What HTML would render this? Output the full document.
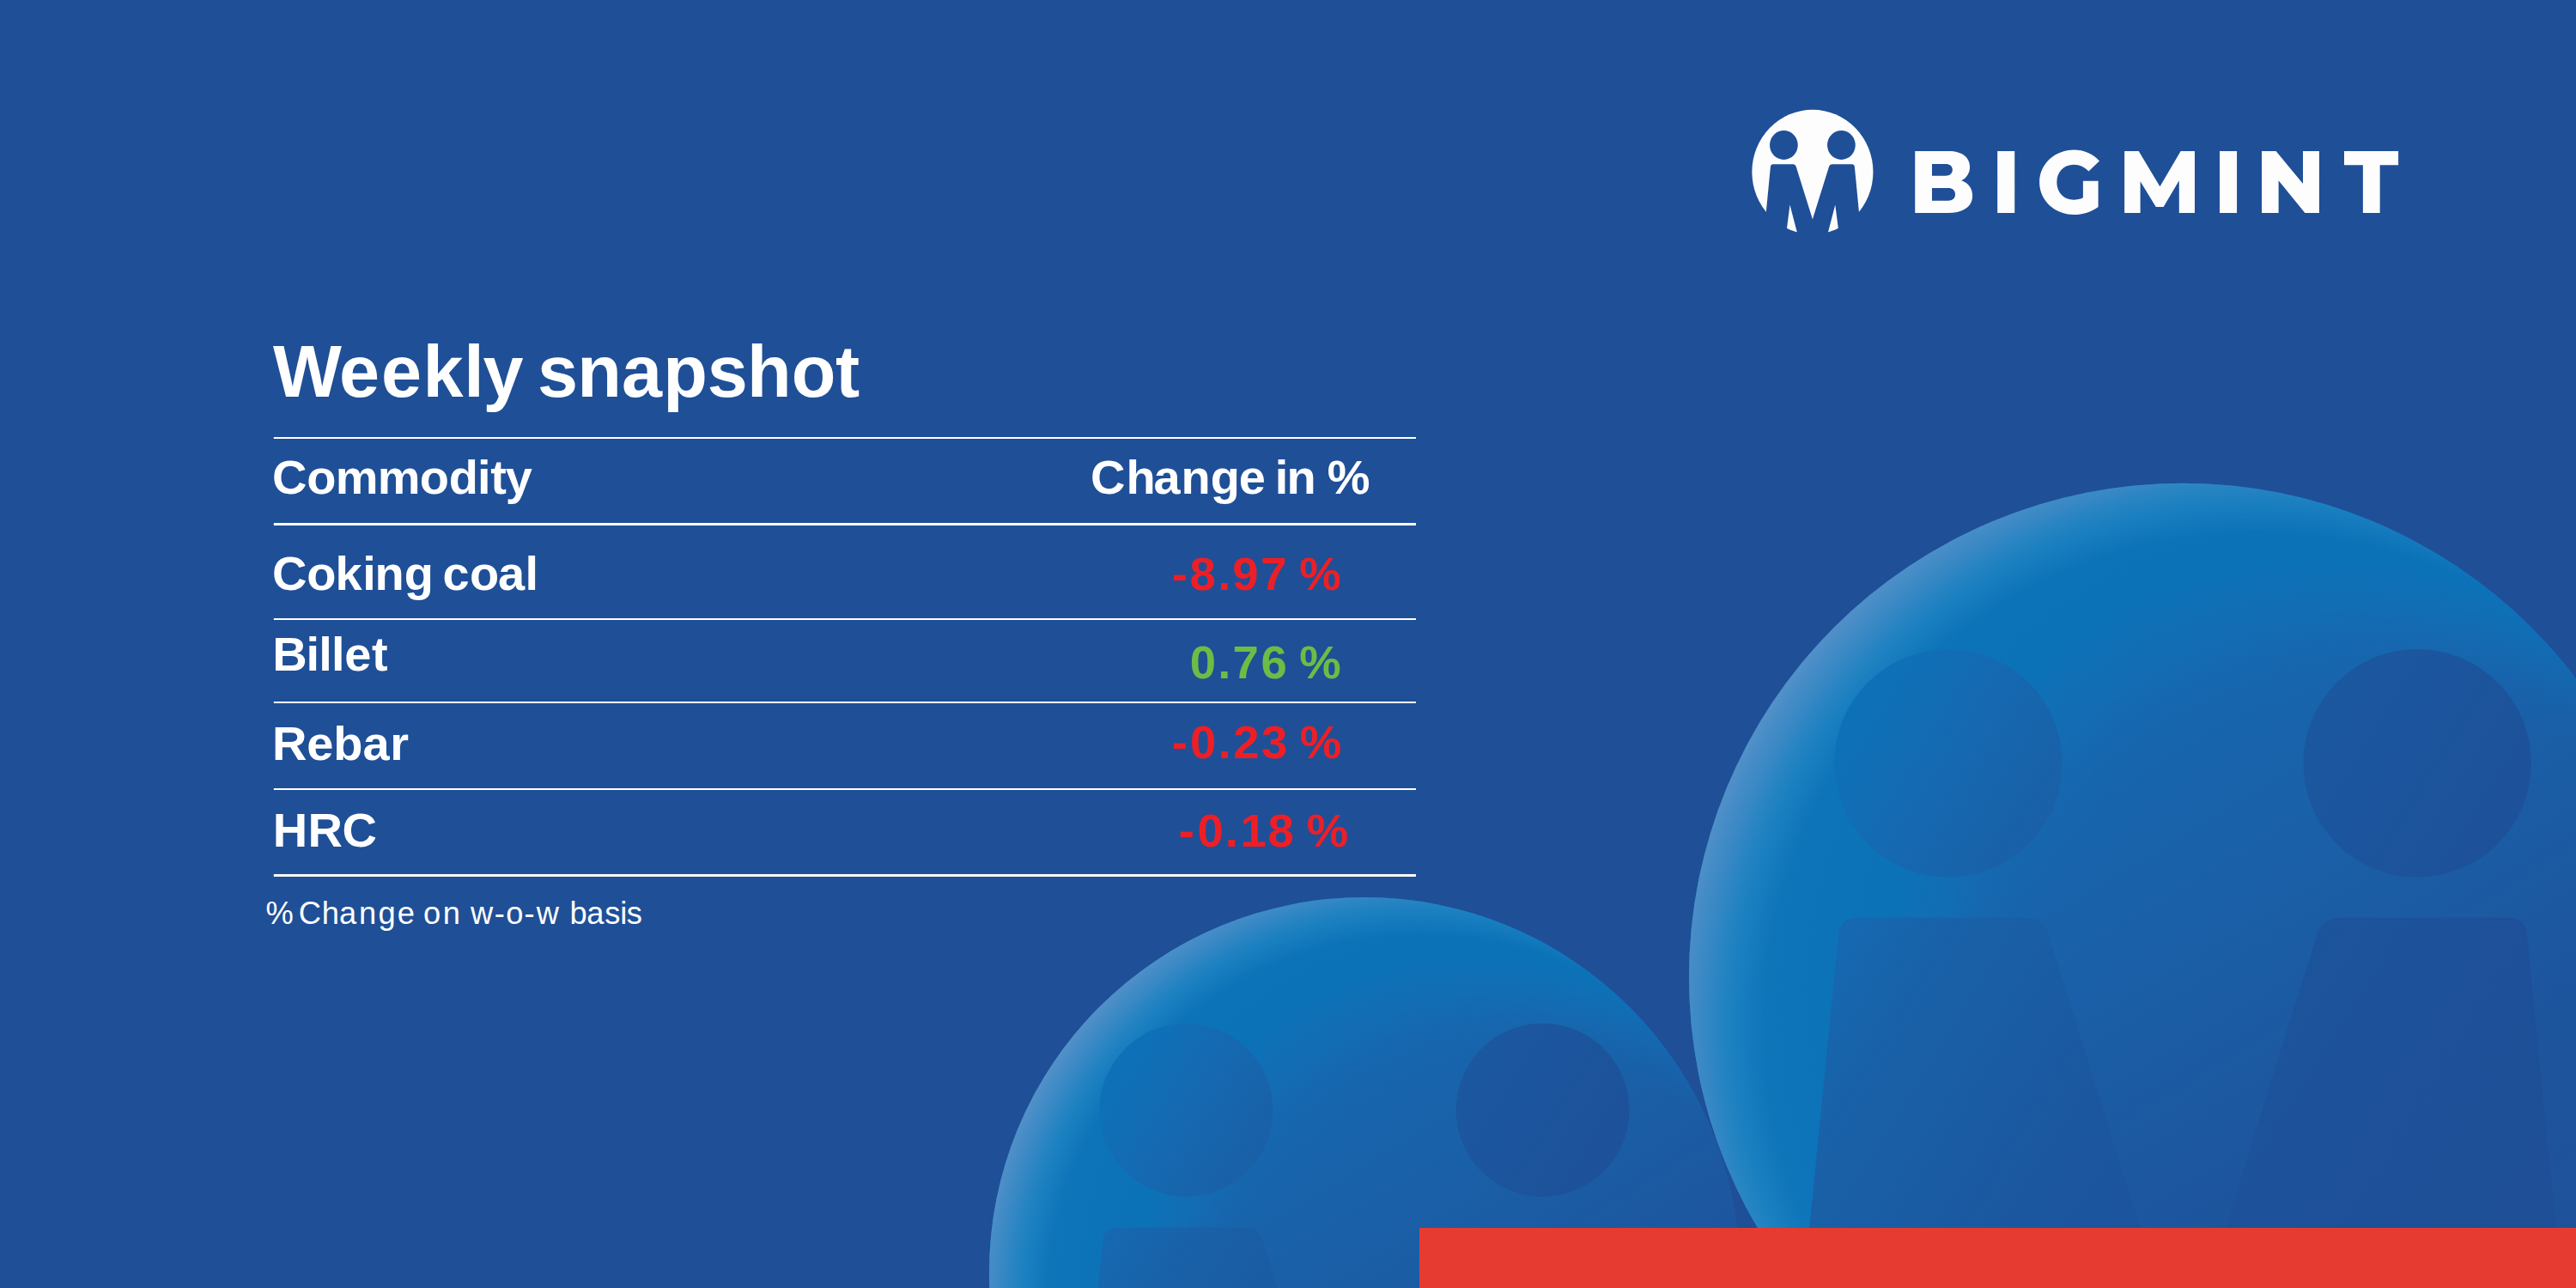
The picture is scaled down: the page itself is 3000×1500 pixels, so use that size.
<!DOCTYPE html>
<html><head><meta charset="utf-8"><style>
html,body{margin:0;padding:0;background:#1F4F97;width:3000px;height:1500px;overflow:hidden}
svg{display:block}
text{font-family:"Liberation Sans",sans-serif}
</style></head><body>
<svg width="3000" height="1500" viewBox="0 0 3000 1500">
<defs>
<linearGradient id="base0" gradientUnits="userSpaceOnUse" x1="-0.522" y1="-0.853" x2="0.522" y2="0.853"><stop offset="0.0000" stop-color="#1469B1"/><stop offset="0.2000" stop-color="#1667AF"/><stop offset="0.3700" stop-color="#1963AB"/><stop offset="0.5650" stop-color="#1B5BA3"/><stop offset="0.7000" stop-color="#1D569E"/><stop offset="1.0000" stop-color="#1F5098"/></linearGradient><linearGradient id="sg0" gradientUnits="userSpaceOnUse" x1="-0.85" y1="-0.53" x2="0.85" y2="0.53"><stop offset="0.0000" stop-color="#0C72B8"/><stop offset="0.0850" stop-color="#0E71B8"/><stop offset="0.1800" stop-color="#1569B1"/><stop offset="0.2850" stop-color="#1961A8"/><stop offset="0.4900" stop-color="#1B579F"/><stop offset="0.6000" stop-color="#1C549C"/><stop offset="0.7000" stop-color="#1D5199"/><stop offset="1.0000" stop-color="#1E4E96"/></linearGradient><radialGradient id="band0" gradientUnits="userSpaceOnUse" cx="0.3" cy="0.05" r="1.35"><stop offset="0.0000" stop-color="#1469B1" stop-opacity="0"/><stop offset="0.4074" stop-color="#1469B1" stop-opacity="0"/><stop offset="0.5778" stop-color="#1270B6" stop-opacity="0.7"/><stop offset="0.6667" stop-color="#0C72B8" stop-opacity="1"/><stop offset="0.8148" stop-color="#0E74B9" stop-opacity="1"/><stop offset="1.0000" stop-color="#1479BC" stop-opacity="1"/></radialGradient><radialGradient id="glow0" gradientUnits="userSpaceOnUse" cx="0.15" cy="0.1" r="1.2"><stop offset="0.0000" stop-color="#2287C4" stop-opacity="0"/><stop offset="0.8333" stop-color="#2287C4" stop-opacity="0"/><stop offset="0.8833" stop-color="#2287C4" stop-opacity="0.6"/><stop offset="0.9333" stop-color="#3D8BC6" stop-opacity="0.85"/><stop offset="1.0000" stop-color="#5E93CA" stop-opacity="1"/></radialGradient><radialGradient id="shg0" gradientUnits="userSpaceOnUse" cx="0.45" cy="0.25" r="1.0"><stop offset="0.0000" stop-color="#fff" stop-opacity="1"/><stop offset="0.8000" stop-color="#fff" stop-opacity="1"/><stop offset="1.0000" stop-color="#fff" stop-opacity="0"/></radialGradient><mask id="shm0" maskUnits="userSpaceOnUse" x="-1.1" y="-1.1" width="2.2" height="2.2" maskContentUnits="userSpaceOnUse"><rect x="-1.1" y="-1.1" width="2.2" height="2.2" fill="url(#shg0)"/></mask><linearGradient id="base1" gradientUnits="userSpaceOnUse" x1="-0.522" y1="-0.853" x2="0.522" y2="0.853"><stop offset="0.0000" stop-color="#1469B1"/><stop offset="0.2000" stop-color="#1667AF"/><stop offset="0.3700" stop-color="#1963AB"/><stop offset="0.5650" stop-color="#1B5BA3"/><stop offset="0.7000" stop-color="#1D569E"/><stop offset="1.0000" stop-color="#1F5098"/></linearGradient><linearGradient id="sg1" gradientUnits="userSpaceOnUse" x1="-0.85" y1="-0.53" x2="0.85" y2="0.53"><stop offset="0.0000" stop-color="#0C72B8"/><stop offset="0.0850" stop-color="#0E71B8"/><stop offset="0.1800" stop-color="#1569B1"/><stop offset="0.2850" stop-color="#1961A8"/><stop offset="0.4900" stop-color="#1B579F"/><stop offset="0.6000" stop-color="#1C549C"/><stop offset="0.7000" stop-color="#1D5199"/><stop offset="1.0000" stop-color="#1E4E96"/></linearGradient><radialGradient id="band1" gradientUnits="userSpaceOnUse" cx="0.3" cy="0.05" r="1.35"><stop offset="0.0000" stop-color="#1469B1" stop-opacity="0"/><stop offset="0.4074" stop-color="#1469B1" stop-opacity="0"/><stop offset="0.5778" stop-color="#1270B6" stop-opacity="0.7"/><stop offset="0.6667" stop-color="#0C72B8" stop-opacity="1"/><stop offset="0.8148" stop-color="#0E74B9" stop-opacity="1"/><stop offset="1.0000" stop-color="#1479BC" stop-opacity="1"/></radialGradient><radialGradient id="glow1" gradientUnits="userSpaceOnUse" cx="0.15" cy="0.1" r="1.2"><stop offset="0.0000" stop-color="#2287C4" stop-opacity="0"/><stop offset="0.8333" stop-color="#2287C4" stop-opacity="0"/><stop offset="0.8833" stop-color="#2287C4" stop-opacity="0.6"/><stop offset="0.9333" stop-color="#3D8BC6" stop-opacity="0.85"/><stop offset="1.0000" stop-color="#5E93CA" stop-opacity="1"/></radialGradient><radialGradient id="shg1" gradientUnits="userSpaceOnUse" cx="0.45" cy="0.25" r="1.0"><stop offset="0.0000" stop-color="#fff" stop-opacity="1"/><stop offset="0.8000" stop-color="#fff" stop-opacity="1"/><stop offset="1.0000" stop-color="#fff" stop-opacity="0"/></radialGradient><mask id="shm1" maskUnits="userSpaceOnUse" x="-1.1" y="-1.1" width="2.2" height="2.2" maskContentUnits="userSpaceOnUse"><rect x="-1.1" y="-1.1" width="2.2" height="2.2" fill="url(#shg1)"/></mask>
 <clipPath id="cc"><circle r="1"/></clipPath>
</defs>
<rect width="3000" height="1500" fill="#1F4F97"/>
<g transform="translate(1589,1482) scale(437)">
 <circle r="1" fill="url(#base0)"/>
 <circle r="1" fill="url(#band0)"/>
 <circle r="1" fill="url(#base0)" mask="url(#shm0)"/>
 <circle r="1" fill="url(#glow0)"/>
 <g clip-path="url(#cc)" fill="url(#sg0)">
  <circle cx="-0.475" cy="-0.433" r="0.231"/>
  <circle cx="0.475" cy="-0.433" r="0.231"/>
  <path d="M-0.6590,-0.1200L-0.3170,-0.1200Q-0.2820,-0.1200 -0.2714,-0.0850L0.0100,0.8168L0.0100,1.4L-0.1406,1.4L-0.3740,0.5290L-0.4898,1.4L-0.8442,1.4L-0.6975,-0.0850Q-0.6940,-0.1200 -0.6590,-0.1200Z"/>
  <path d="M0.6590,-0.1200L0.3170,-0.1200Q0.2820,-0.1200 0.2714,-0.0850L-0.0100,0.8168L-0.0100,1.4L0.1406,1.4L0.3740,0.5290L0.4898,1.4L0.8442,1.4L0.6975,-0.0850Q0.6940,-0.1200 0.6590,-0.1200Z"/>
 </g>
</g>
<g transform="translate(2542,1137.8) scale(575)">
 <circle r="1" fill="url(#base1)"/>
 <circle r="1" fill="url(#band1)"/>
 <circle r="1" fill="url(#base1)" mask="url(#shm1)"/>
 <circle r="1" fill="url(#glow1)"/>
 <g clip-path="url(#cc)" fill="url(#sg1)">
  <circle cx="-0.475" cy="-0.433" r="0.231"/>
  <circle cx="0.475" cy="-0.433" r="0.231"/>
  <path d="M-0.6590,-0.1200L-0.3170,-0.1200Q-0.2820,-0.1200 -0.2714,-0.0850L0.0100,0.8168L0.0100,1.4L-0.1406,1.4L-0.3740,0.5290L-0.4898,1.4L-0.8442,1.4L-0.6975,-0.0850Q-0.6940,-0.1200 -0.6590,-0.1200Z"/>
  <path d="M0.6590,-0.1200L0.3170,-0.1200Q0.2820,-0.1200 0.2714,-0.0850L-0.0100,0.8168L-0.0100,1.4L0.1406,1.4L0.3740,0.5290L0.4898,1.4L0.8442,1.4L0.6975,-0.0850Q0.6940,-0.1200 0.6590,-0.1200Z"/>
 </g>
</g>
<rect x="1653" y="1430" width="1347" height="70" fill="#E63B30"/>
<g transform="translate(2110.9,200.25) scale(70.55,72.5)">
 <circle r="1" fill="#FDFDFD"/>
 <ellipse cx="-0.475" cy="-0.432" rx="0.2318" ry="0.2338" fill="#1F4F97"/>
 <ellipse cx="0.475" cy="-0.432" rx="0.2318" ry="0.2338" fill="#1F4F97"/>
 <path d="M-0.6550,-0.1250L-0.3190,-0.1250Q-0.2840,-0.1250 -0.2730,-0.0900L0.0100,0.7917L0.0100,1.4L-0.1406,1.4L-0.3740,0.5290L-0.4898,1.4L-0.8420,1.4L-0.6935,-0.0900Q-0.6900,-0.1250 -0.6550,-0.1250Z" fill="#1F4F97"/>
 <path d="M0.6550,-0.1250L0.3190,-0.1250Q0.2840,-0.1250 0.2730,-0.0900L-0.0100,0.7917L-0.0100,1.4L0.1406,1.4L0.3740,0.5290L0.4898,1.4L0.8420,1.4L0.6935,-0.0900Q0.6900,-0.1250 0.6550,-0.1250Z" fill="#1F4F97"/>
</g>
<svg x="2220" y="160" width="600" height="100" viewBox="0 0 6440 1073" preserveAspectRatio="none">
 <path fill="#FDFDFD" fill-rule="evenodd" d="M110,172H530C700,172 795,250 795,370C795,450 750,510 690,540C780,570 828,640 828,730C828,860 720,945 520,945H110Z M322,332H490C545,332 578,360 578,405C578,450 545,480 490,480H322Z M322,632H520C580,632 612,660 612,710C612,760 580,790 520,790H322Z M1140,172H1355V945H1140Z M2415,295C2335,205 2225,155 2095,155C1860,155 1665,330 1665,560C1665,790 1860,965 2095,965C2200,965 2320,930 2400,868V545H2210V755C2170,775 2130,780 2095,780C1970,780 1882,690 1882,560C1882,430 1970,340 2095,340C2170,340 2230,370 2280,425Z M2728,172H2906L3171,615L3431,172H3606V945H3411V540L3216,870H3121L2926,550V945H2728Z M3918,172H4133V945H3918Z M4444,172H4622L4959,580V172H5162V945H4984L4654,540V945H4444Z M5474,172H6151V345H5921V945H5709V345H5474Z"/>
</svg>
<rect x="318.8" y="509" width="1330.2" height="2" fill="#fff"/><rect x="318.8" y="609" width="1330.2" height="3" fill="#fff"/><rect x="318.8" y="720" width="1330.2" height="2" fill="#fff"/><rect x="318.8" y="817" width="1330.2" height="2" fill="#fff"/><rect x="318.8" y="918" width="1330.2" height="2" fill="#fff"/><rect x="318.8" y="1018" width="1330.2" height="3" fill="#fff"/>
<text x="317.98 395.07 444.07 492.38 540.34 562.52 609.57 626.02 672.35 723.92 772.36 823.82 869.98 921.76 972.91" y="461.8" font-weight="bold" font-size="84.6" fill="#fff">Weekly snapshot</text><text x="316.9 357.2 390.74 439.64 488.7 522.79 556.0 571.18 588.76" y="575.4" font-weight="bold" font-size="56" fill="#fff">Commodity</text><text x="1270.05 1311.48 1343.58 1375.49 1409.67 1442.64 1473.79 1484.75 1498.54 1532.74 1545.69" y="575.2" font-weight="bold" font-size="56" fill="#fff">Change in %</text><text x="316.9 357.25 390.45 422.3 436.54 470.82 505.03 515.55 547.1 580.08 611.55" y="687.3" font-weight="bold" font-size="56" fill="#fff">Coking coal</text><text x="317.23 356.5 371.2 386.0 401.34 433.08" y="781.2" font-weight="bold" font-size="56" fill="#fff">Billet</text><text x="317.08 357.19 388.2 422.38 454.13" y="884.5" font-weight="bold" font-size="56" fill="#fff">Rebar</text><text x="317.67 358.58 398.5" y="985.5" font-weight="bold" font-size="56" fill="#fff">HRC</text><text x="1364.75 1385.62 1418.31 1435.26 1468.27 1498.58 1513.21" y="687" font-weight="bold" font-size="54.5" fill="#ED1F26">-8.97 %</text><text x="1385.68 1418.31 1435.52 1468.43 1498.74 1513.21" y="789.5" font-weight="bold" font-size="54.5" fill="#6BBD45">0.76 %</text><text x="1364.75 1386.08 1418.51 1436.24 1468.95 1499.26 1513.66" y="883.4" font-weight="bold" font-size="54.5" fill="#ED1F26">-0.23 %</text><text x="1372.8 1394.48 1426.66 1444.54 1476.62 1506.93 1521.81" y="985.6" font-weight="bold" font-size="54.5" fill="#ED1F26">-0.18 %</text><text x="309.56 341.84 347.86 374.63 394.88 417.98 440.41 462.64 482.83 492.96 515.78 535.97 547.92 575.71 589.31 610.61 624.77 650.99 663.6 683.18 704.33 722.33 729.78" y="1075.5" font-weight="normal" font-size="36.3" fill="#fff">% Change on w-o-w basis</text>
</svg>
</body></html>
